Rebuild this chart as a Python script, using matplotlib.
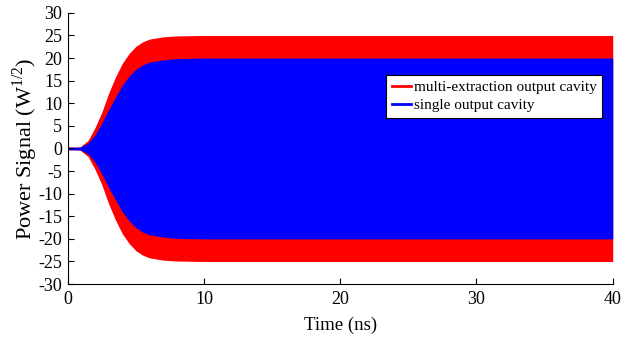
import numpy as np
import matplotlib.pyplot as plt
from matplotlib.lines import Line2D

# envelope of the RF signal
t = [0, 0.5, 0.9, 1.5, 2.0, 2.5, 3.0, 3.5, 4.0, 4.5, 5.0, 5.5, 6.0, 7.0, 8.0, 10, 40]
amp_multi = [0.3, 0.3, 0.35, 1.8, 4.6, 8.0, 12.2, 15.8, 18.8, 21.0, 22.6, 23.6, 24.2, 24.7, 24.9, 25.0, 25.0]
amp_single = [0.3, 0.3, 0.3, 1.2, 3.0, 5.6, 8.6, 11.3, 14.0, 16.0, 17.5, 18.5, 19.1, 19.6, 19.9, 20.0, 20.0]

plt.rcParams['font.family'] = ['Liberation Serif', 'DejaVu Serif']
plt.rcParams['mathtext.fontset'] = 'custom'
plt.rcParams['mathtext.rm'] = 'Liberation Serif'
plt.rcParams['axes.unicode_minus'] = False

fig = plt.figure(figsize=(6.33, 3.39), dpi=100)
ax = fig.add_axes([0.107, 0.162, 0.861, 0.800])

t = np.array(t)
amp_multi = np.array(amp_multi)
amp_single = np.array(amp_single)
ax.fill_between(t, -amp_multi, amp_multi, color='#ff0000', lw=0)
ax.fill_between(t, -amp_single, amp_single, color='#0000ff', lw=0)

ax.set_xlim(0, 40)
ax.set_ylim(-30, 30)
ax.set_xticks([0, 10, 20, 30, 40])
ax.set_yticks(np.arange(-30, 31, 5))
ax.tick_params(direction='in', length=4, labelsize=13, width=0.8)
ax.tick_params(axis='x', pad=5)
ax.tick_params(axis='y', pad=4)
for s in ['top', 'right']:
    ax.spines[s].set_visible(False)
ax.set_xlabel("Time (ns)", fontsize=13.5, labelpad=6)
ax.set_ylabel(r"Power Signal (W$^{1/2}$)", fontsize=16, labelpad=-1)

handles = [Line2D([], [], color='#ff0000', lw=2), Line2D([], [], color='#0000ff', lw=2)]
leg = ax.legend(handles, ["multi-extraction output cavity", "single output cavity"],
                loc='upper right', bbox_to_anchor=(0.98, 0.771), borderaxespad=0,
                fontsize=11, handlelength=1.3, handletextpad=0.15, borderpad=0.35,
                labelspacing=0.3, fancybox=False, framealpha=1, edgecolor='black')
leg.get_frame().set_linewidth(0.8)

plt.savefig("out.png", dpi=100)
plt.close()
